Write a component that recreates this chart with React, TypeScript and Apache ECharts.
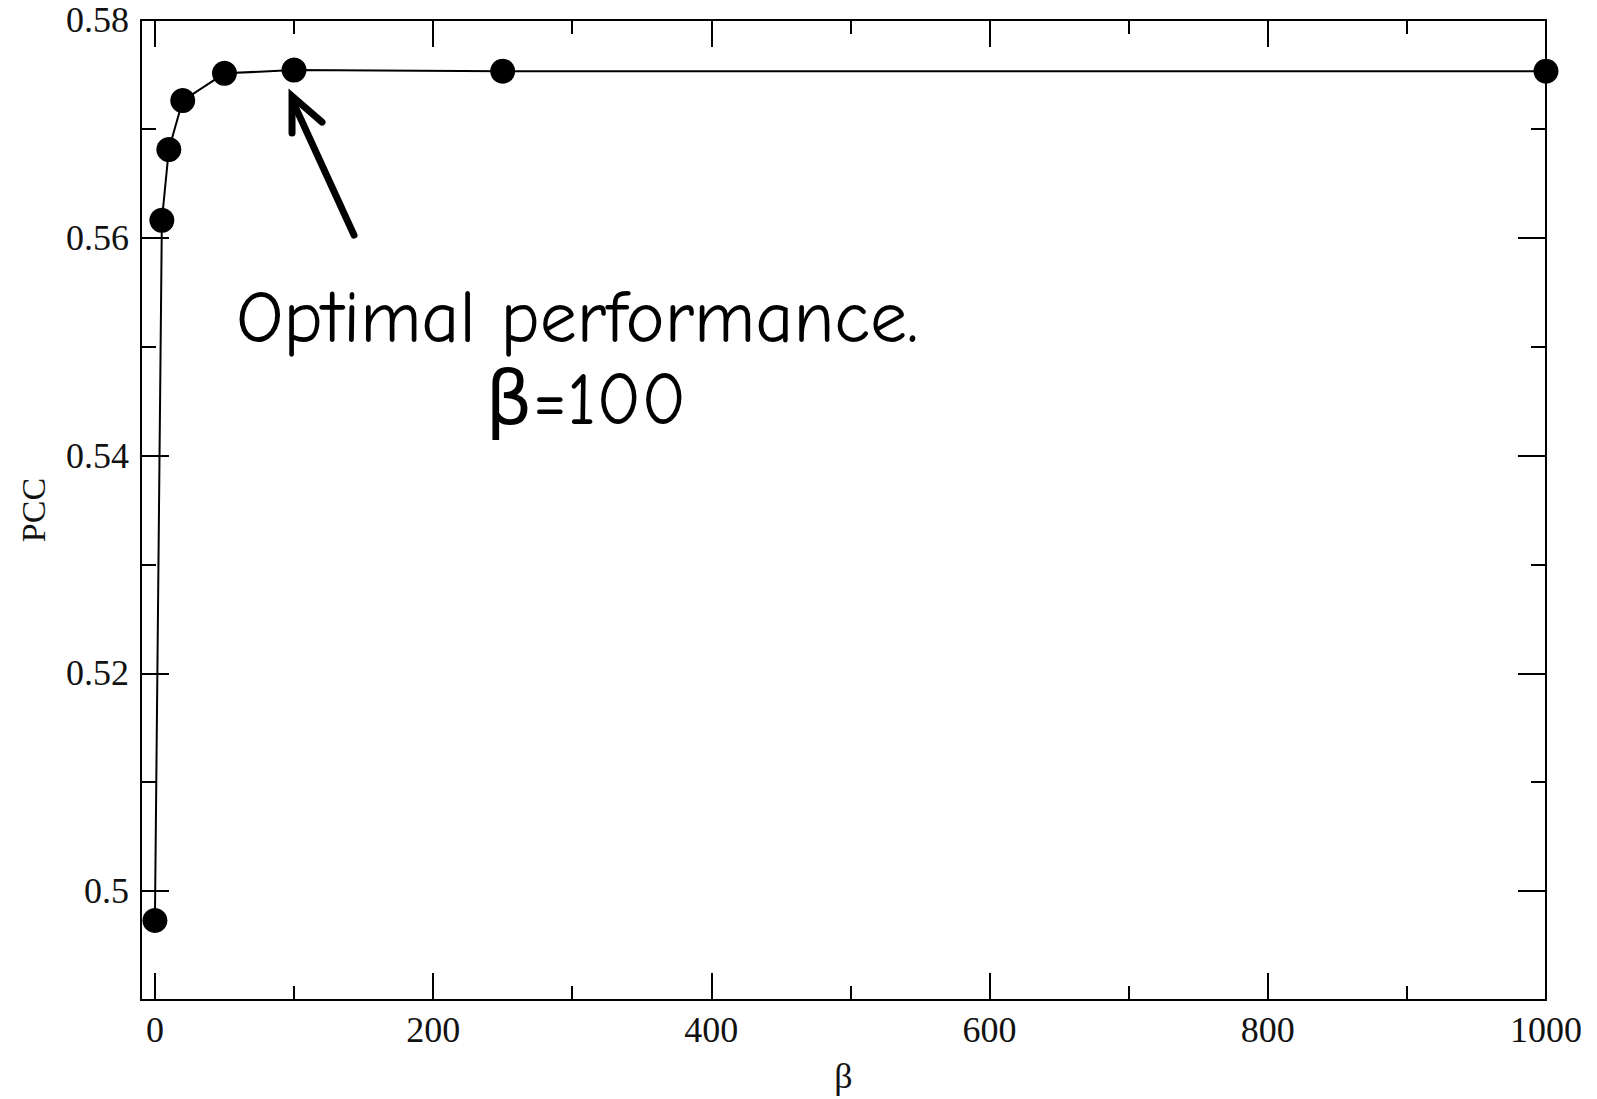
import React, { useEffect, useRef } from "react";
import * as echarts from "echarts";

const betaValues = [0, 5, 10, 20, 50, 100, 250, 1000];
const pccValues = [0.4973, 0.5616, 0.5681, 0.5726, 0.5751, 0.5754, 0.5753, 0.5753];

const xMajorTicks = [0, 200, 400, 600, 800, 1000];
const xMinorTicks = [100, 300, 500, 700, 900];
const yMajorTicks = [0.5, 0.52, 0.54, 0.56, 0.58];
const yMinorTicks = [0.51, 0.53, 0.55, 0.57];

const xRange = [-10, 1000];
const yRange = [0.49, 0.58];

const optimalBeta = 100;
const optimalPcc = 0.5754;
const annotationLine1 = "Optimal performance.";
const annotationLine2 = "β=100";

const LINE = { color: "#000", width: 2 };
const serif = "'Liberation Serif', 'Times New Roman', serif";
const comic = "'Comic Sans MS', 'Comic Neue', 'DejaVu Sans', sans-serif";

function xAxisDef(position: string, ticks: number[], len: number, showLine: boolean, showLabels: boolean) {
  return {
    type: "value",
    position,
    min: xRange[0],
    max: xRange[1],
    name: showLabels ? "β" : "",
    nameLocation: "middle",
    nameGap: 58,
    nameTextStyle: { fontFamily: serif, fontSize: 36, color: "#111" },
    axisLine: { show: showLine, onZero: false, lineStyle: LINE },
    axisTick: { show: true, inside: true, length: len, customValues: ticks, lineStyle: LINE },
    axisLabel: {
      show: showLabels,
      customValues: ticks,
      margin: 12,
      fontFamily: serif,
      fontSize: 36,
      color: "#111",
      formatter: (v: number) => String(Math.round(v)),
    },
    splitLine: { show: false },
  };
}

function yAxisDef(position: string, ticks: number[], len: number, showLine: boolean, showLabels: boolean) {
  return {
    type: "value",
    position,
    min: yRange[0],
    max: yRange[1],
    name: showLabels ? "PCC" : "",
    nameLocation: "middle",
    nameGap: 91,
    nameTextStyle: { fontFamily: serif, fontSize: 34, color: "#111" },
    axisLine: { show: showLine, onZero: false, lineStyle: LINE },
    axisTick: { show: true, inside: true, length: len, customValues: ticks, lineStyle: LINE },
    axisLabel: {
      show: showLabels,
      customValues: ticks,
      margin: 12,
      fontFamily: serif,
      fontSize: 36,
      color: "#111",
      formatter: (v: number) => String(Number(v.toFixed(2))),
    },
    splitLine: { show: false },
  };
}

export default function App() {
  const ref = useRef<HTMLDivElement>(null);
  useEffect(() => {
    if (!ref.current) return;
    const chart = echarts.init(ref.current, undefined, { renderer: "svg" });
    chart.setOption({
      animation: false,
      backgroundColor: "#fff",
      grid: { left: 141, right: 51, top: 20, bottom: 95, containLabel: false },
      xAxis: [
        xAxisDef("bottom", xMajorTicks, 27, true, true),
        xAxisDef("bottom", xMinorTicks, 14, false, false),
        xAxisDef("top", xMajorTicks, 27, true, false),
        xAxisDef("top", xMinorTicks, 14, false, false),
      ],
      yAxis: [
        yAxisDef("left", yMajorTicks, 28, true, true),
        yAxisDef("left", yMinorTicks, 15, false, false),
        yAxisDef("right", yMajorTicks, 28, true, false),
        yAxisDef("right", yMinorTicks, 15, false, false),
      ],
      series: [
        {
          type: "line",
          xAxisIndex: 0,
          yAxisIndex: 0,
          data: betaValues.map((b, i) => [b, pccValues[i]]),
          symbol: "circle",
          symbolSize: 25,
          itemStyle: { color: "#000" },
          lineStyle: { color: "#000", width: 2 },
          z: 5,
        },
      ],
    });
    const p = chart.convertToPixel({ seriesIndex: 0 }, [optimalBeta, optimalPcc]) as number[];
    const tip = [p[0] - 2, p[1] + 26];
    chart.setOption({
      graphic: [
        {
          type: "line",
          shape: { x1: tip[0] + 62, y1: tip[1] + 139, x2: tip[0] + 2, y2: tip[1] + 8 },
          style: { stroke: "#000", lineWidth: 7, lineCap: "round" },
        },
        {
          type: "polyline",
          shape: { points: [[tip[0] + 30, tip[1] + 26], [tip[0], tip[1]], [tip[0], tip[1] + 37]] },
          style: { stroke: "#000", lineWidth: 7, lineCap: "round", lineJoin: "miter", fill: "none" },
        },
        {
          type: "text",
          x: 236,
          y: 318,
          style: {
            text: annotationLine1,
            font: `74px ${comic}`,
            fill: "#000",
            align: "left",
            verticalAlign: "middle",
          },
        },
        {
          type: "text",
          x: 586,
          y: 400,
          style: {
            text: annotationLine2,
            font: `74px ${comic}`,
            fill: "#000",
            align: "center",
            verticalAlign: "middle",
          },
        },
      ],
    });
    return () => chart.dispose();
  }, []);
  return (
    <div
      ref={ref}
      style={{ position: "fixed", left: 0, top: 0, width: 1597, height: 1099, background: "#fff" }}
    />
  );
}
